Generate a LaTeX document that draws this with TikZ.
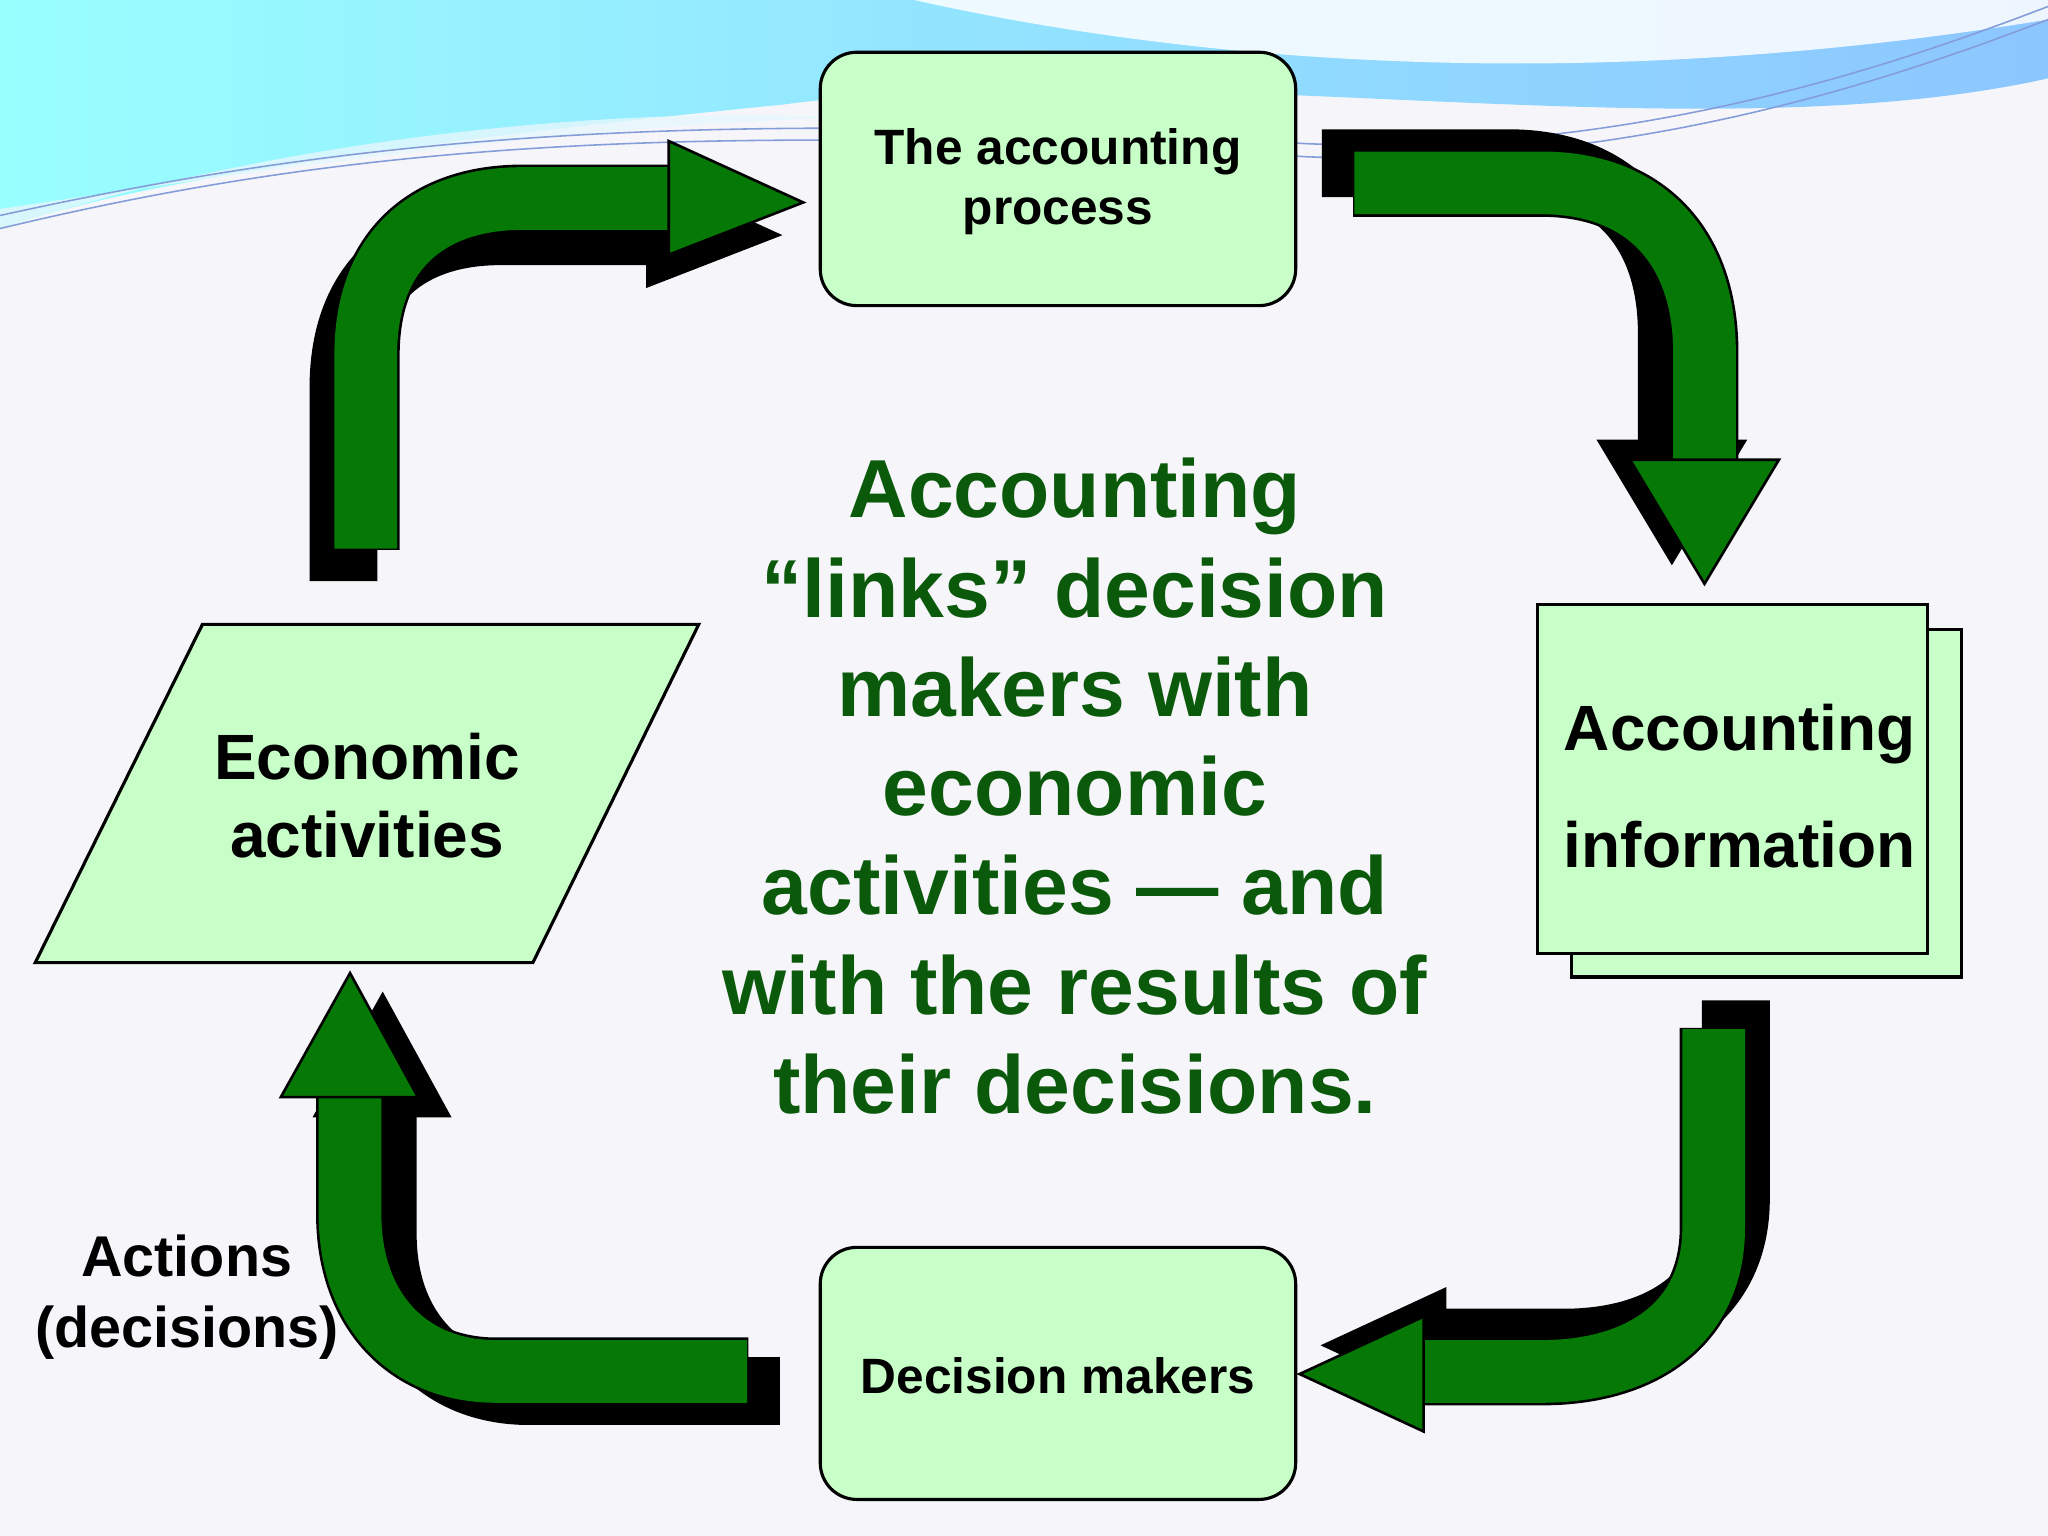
\documentclass[tikz,border=0pt]{standalone}
\usepackage{fontspec}
\setmainfont{Liberation Sans}
\begin{document}
\begin{tikzpicture}[x=0.5pt,y=-0.5pt,
  boxst/.style={draw=black,line width=1.2pt,fill=boxgreen},
  arrgreen/.style={line width=24pt,draw=arrowgreen},
  arrout/.style={line width=26pt,draw=black},
  headst/.style={fill=arrowgreen,draw=black,line width=1pt,line join=miter},
  shadowst/.style={fill=black,draw=black}]
\definecolor{boxgreen}{HTML}{C8FFC8}
\definecolor{arrowgreen}{HTML}{067806}
\definecolor{textgreen}{HTML}{0B5A0B}
\definecolor{bg}{HTML}{F6F6FA}
\useasboundingbox (0,0) rectangle (1568,1176);
\fill[bg] (0,0) rectangle (1568,1176);
% top wave
\shade[left color=cyan!40!white,right color=cyan!50!blue!45!white] (0,0) -- (1568,0) -- (1568,60) .. controls (1300,120) and (900,40) .. (600,80) .. controls (300,110) and (100,140) .. (0,175) -- cycle;
\fill[white,opacity=0.85] (700,0) .. controls (900,45) and (1200,75) .. (1568,15) -- (1568,0) -- cycle;
\fill[cyan!10,opacity=0.8] (0,175) .. controls (200,110) and (450,80) .. (650,90) .. controls (450,95) and (200,130) .. (0,160) -- cycle;
\draw[cyan!40!blue!50,line width=0.6pt] (0,165) .. controls (250,110) and (500,80) .. (1000,110) .. controls (1250,120) and (1450,50) .. (1568,5);
\draw[cyan!40!blue!50,line width=0.6pt] (0,175) .. controls (250,115) and (500,90) .. (1000,120) .. controls (1250,130) and (1450,60) .. (1568,15);
% arrow 1
\begin{scope}[shift={(-17,25)}]
\draw[arrout] (280,420) -- (280,272) .. controls (280,190) and (330,152) .. (400,152) -- (515,152);
\fill[shadowst] (512,108) -- (615,155) -- (512,195) -- cycle;
\end{scope}
\draw[arrout] (280,421) -- (280,272) .. controls (280,190) and (330,152) .. (400,152) -- (515,152);
\draw[arrgreen] (280,420) -- (280,272) .. controls (280,190) and (330,152) .. (400,152) -- (515,152);
\path[headst] (512,108) -- (615,155) -- (512,195) -- cycle;
% arrow 2
\begin{scope}[shift={(-25,-15)}]
\draw[arrout] (1037,140) -- (1180,140) .. controls (1260,140) and (1305,190) .. (1305,270) -- (1305,355);
\fill[shadowst] (1248,352) -- (1305,447) -- (1362,352) -- cycle;
\end{scope}
\draw[arrout] (1036,140) -- (1180,140) .. controls (1260,140) and (1305,190) .. (1305,270) -- (1305,355);
\draw[arrgreen] (1037,140) -- (1180,140) .. controls (1260,140) and (1305,190) .. (1305,270) -- (1305,355);
\path[headst] (1248,352) -- (1305,447) -- (1362,352) -- cycle;
% arrow 3
\begin{scope}[shift={(17,-22)}]
\draw[arrout] (1312,788) -- (1312,940) .. controls (1312,1010) and (1260,1050) .. (1180,1050) -- (1088,1050);
\fill[shadowst] (1090,1008) -- (995,1052) -- (1090,1096) -- cycle;
\end{scope}
\draw[arrout] (1312,787) -- (1312,940) .. controls (1312,1010) and (1260,1050) .. (1180,1050) -- (1088,1050);
\draw[arrgreen] (1312,788) -- (1312,940) .. controls (1312,1010) and (1260,1050) .. (1180,1050) -- (1088,1050);
\path[headst] (1090,1008) -- (995,1052) -- (1090,1096) -- cycle;
% arrow 4
\begin{scope}[shift={(25,15)}]
\draw[arrout] (572,1050) -- (380,1050) .. controls (310,1050) and (268,1000) .. (268,930) -- (268,838);
\fill[shadowst] (215,840) -- (268,745) -- (320,840) -- cycle;
\end{scope}
\draw[arrout] (573,1050) -- (380,1050) .. controls (310,1050) and (268,1000) .. (268,930) -- (268,838);
\draw[arrgreen] (572,1050) -- (380,1050) .. controls (310,1050) and (268,1000) .. (268,930) -- (268,838);
\path[headst] (215,840) -- (268,745) -- (320,840) -- cycle;
% boxes
\draw[boxst,rounded corners=14pt] (628,40) rectangle (992,234);
\node[font=\bfseries\fontsize{19}{23}\selectfont,align=center] (proc) at (810,139) {The accounting\\process};
\draw[boxst,rounded corners=14pt] (628,955) rectangle (992,1148);
\node[font=\bfseries\fontsize{19}{23}\selectfont] (dm) at (810,1053) {Decision makers};
\draw[boxst] (1203,482) rectangle (1502,748);
\draw[boxst] (1177,463) rectangle (1476,730);
\node[font=\bfseries\fontsize{24.5}{45}\selectfont,align=left] (ai) at (1332,602) {Accounting\\information};
\draw[boxst] (27,737) -- (155,478) -- (535,478) -- (408,737) -- cycle;
\node[font=\bfseries\fontsize{24.5}{30}\selectfont,align=center] (ea) at (281,609) {Economic\\activities};
\node[font=\bfseries\fontsize{22}{27}\selectfont,align=center] (act) at (143,993) {Actions\\(decisions)};
\node[font=\bfseries\fontsize{31.5}{38}\selectfont,align=center,text=textgreen] (mid) at (823,602) {Accounting\\“links” decision\\makers with\\economic\\activities — and\\with the results of\\their decisions.};
\end{tikzpicture}
\end{document}
